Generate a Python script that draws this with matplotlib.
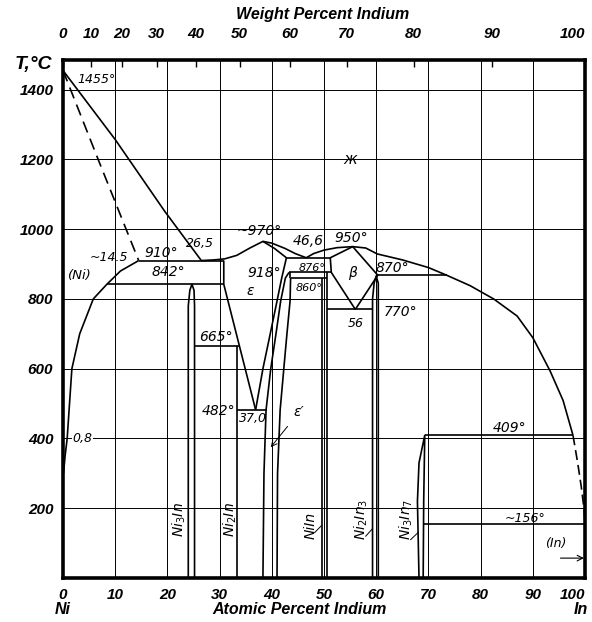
import numpy as np
import matplotlib.pyplot as plt

plt.rcParams['font.family'] = ['DejaVu Sans']

# ---- phase boundaries, at.% In vs T (C) ----
liq_ni_x = [0, 10, 19.5, 26.5]
liq_ni_t = [1455, 1257, 1051, 910]
sol_ni_x = [0, 7, 14.5]
sol_ni_t = [1455, 1190, 910]
solvus_ni_x = [0.1, 0.4, 0.8, 1.7, 3.2, 5.8, 8.4, 11.0, 14.5]
solvus_ni_t = [300, 350, 400, 600, 700, 800, 842, 880, 910]

eps_liq_x = [26.5, 29, 31, 33.3, 35.8, 38.3, 40, 42.5, 44.5, 46.6]
eps_liq_t = [910, 912, 915, 925, 946, 965, 960, 945, 930, 918]
eps_sol_x = [38.3, 40.5, 42.8]
eps_sol_t = [965, 945, 918]

liq_in_x = [46.6, 48, 50, 52.5, 55.5, 58, 60.2, 65, 70, 73.5, 78, 82.5, 87, 90, 93.3, 95.8, 97.7]
liq_in_t = [918, 930, 940, 947, 950, 946, 929, 912, 890, 868, 838, 800, 751, 689, 594, 509, 409]
liq_dash_x = [97.7, 98.6, 99.3, 99.8, 100]
liq_dash_t = [409, 330, 260, 200, 156]

beta_left_x = [55.5, 51.2, 51.4, 56]
beta_left_t = [950, 918, 876, 770]
beta_right_x = [55.5, 60.3, 56]
beta_right_t = [950, 868, 770]

eps_left_x = [30.8, 30.8, 36.9]
eps_left_t = [910, 842, 482]
eps_right_x = [36.9, 38.3, 39.7, 41.0, 41.9, 42.8]
eps_right_t = [482, 600, 700, 794, 860, 918]
epsp_left_x = [38.3, 38.5, 38.9, 39.8, 40.8, 41.7, 42.6, 43.3]
epsp_left_t = [0, 300, 482, 600, 700, 794, 860, 876]
epsp_right_x = [41.0, 41.1, 41.6, 42.3, 42.9, 43.5, 43.6]
epsp_right_t = [0, 300, 482, 600, 700, 794, 860]

ni3in_x = [24.0, 24.0, 24.3, 24.7, 25.1, 25.2, 25.2]
ni3in_t = [0, 780, 825, 842, 825, 780, 0]
ni2in_x = [33.3, 33.3]
ni2in_t = [0, 665]
niin_l_x, niin_l_t = [49.6, 49.6], [0, 860]
niin_r_x, niin_r_t = [50.5, 50.5], [0, 876]
ni2in3_x = [59.3, 59.3, 59.6, 60.0, 60.4, 60.4]
ni2in3_t = [0, 800, 845, 866, 845, 0]
ni3in7_x = [68.2, 67.9, 68.2, 69.3, 69.1, 69.0]
ni3in7_t = [0, 220, 330, 409, 220, 0]
box_x, box_t = [43.5, 43.5], [860, 876]

# isotherms: (T, x from, x to)
iso_t = [910, 842, 665, 482, 918, 876, 860, 870, 770, 409, 156]
iso_x0 = [14.5, 8.4, 25.2, 33.3, 42.8, 43.3, 43.6, 60.3, 50.5, 69.3, 69.2]
iso_x1 = [30.8, 30.8, 33.8, 39.0, 51.2, 51.4, 50.5, 73.5, 59.3, 97.7, 100]

# labels: text, x, T, size
lab_text = ['1455°', '~14.5', '910°', '26,5', '~970°', '(Ni)', '842°', 'ε', '918°',
            '665°', '482°', '37,0', '0,8', '46,6', '950°', '876°', '860°', 'β',
            '870°', '56', '770°', '409°', '~156°', '(In)', 'ж']
lab_x = [6.5, 8.8, 18.8, 26.3, 37.5, 3.3, 20.2, 35.8, 38.5,
         29.3, 29.8, 36.3, 3.7, 47.0, 55.3, 47.8, 47.2, 55.4,
         63.0, 56.0, 64.7, 85.5, 88.5, 94.3, 55.0]
lab_t = [1430, 918, 932, 960, 994, 866, 878, 823, 874,
         690, 480, 457, 400, 966, 974, 889, 831, 874,
         889, 730, 762, 430, 172, 100, 1200]
lab_size = [9, 9, 10, 9, 10, 9.5, 10, 10, 10,
            10, 10, 9, 9, 10, 10, 8, 8, 10,
            10, 9, 10, 10, 9, 9, 11]

cmp_text = ['Ni$_3$In', 'Ni$_2$In', 'NiIn', 'Ni$_2$In$_3$', 'Ni$_3$In$_7$']
cmp_x = [22.2, 32.0, 47.4, 57.2, 65.8]
cmp_t = [167, 167, 150, 167, 167]

M_IN, M_NI = 114.82, 58.69


def at2wt(x):
    x = np.asarray(x, float)
    with np.errstate(divide='ignore', invalid='ignore'):
        return 100 * x * M_IN / (x * M_IN + (100 - x) * M_NI)


def wt2at(w):
    w = np.asarray(w, float)
    with np.errstate(divide='ignore', invalid='ignore'):
        return 100 * (w / M_IN) / (w / M_IN + (100 - w) / M_NI)


fig = plt.figure(figsize=(5.92, 6.22), dpi=100)
ax = fig.add_axes([63 / 592, 44 / 622, 522 / 592, 518 / 622])
ax.set_xlim(0, 100)
ax.set_ylim(0, 1485)

axfont = dict(family='Liberation Sans', weight='bold', style='italic', size=11)
ax.set_xticks(range(0, 101, 10))
ax.set_yticks(range(200, 1401, 200))
xl = ax.set_xticklabels([str(v) for v in range(0, 101, 10)], fontdict=axfont)
xl[-1].set_ha('right')
ax.set_yticklabels([str(v) for v in range(200, 1401, 200)], fontdict=axfont)
ax.tick_params(length=0, pad=7)
ax.grid(True, color='black', lw=0.7)
ax.set_axisbelow(True)
for s in ax.spines.values():
    s.set_linewidth(2.6)

sec = ax.secondary_xaxis('top', functions=(at2wt, wt2at))
sec.set_xticks(range(0, 101, 10))
tl = sec.set_xticklabels([str(v) for v in range(0, 101, 10)], fontdict=axfont)
tl[-1].set_ha('right')
sec.tick_params(direction='in', length=5, width=1, pad=14)
sec.spines['top'].set_visible(False)

lw = 1.2
kw = dict(color='black', lw=lw, solid_capstyle='butt')
ax.plot(liq_ni_x, liq_ni_t, **kw)
ax.plot(sol_ni_x, sol_ni_t, color='black', lw=lw, ls=(0, (7, 4)))
ax.plot(solvus_ni_x, solvus_ni_t, **kw)
ax.plot(eps_liq_x, eps_liq_t, **kw)
ax.plot(eps_sol_x, eps_sol_t, **kw)
ax.plot(liq_in_x, liq_in_t, **kw)
ax.plot(liq_dash_x, liq_dash_t, color='black', lw=lw, ls=(0, (6, 3)))
ax.plot(beta_left_x, beta_left_t, **kw)
ax.plot(beta_right_x, beta_right_t, **kw)
ax.plot(eps_left_x, eps_left_t, **kw)
ax.plot(eps_right_x, eps_right_t, **kw)
ax.plot(epsp_left_x, epsp_left_t, **kw)
ax.plot(epsp_right_x, epsp_right_t, **kw)
for xs, ts in [(ni3in_x, ni3in_t), (ni2in_x, ni2in_t), (niin_l_x, niin_l_t),
               (niin_r_x, niin_r_t), (ni2in3_x, ni2in3_t), (ni3in7_x, ni3in7_t),
               (box_x, box_t)]:
    ax.plot(xs, ts, **kw)
ax.hlines(iso_t, iso_x0, iso_x1, color='black', lw=lw)

for txt, x, t, sz in zip(lab_text, lab_x, lab_t, lab_size):
    bb = dict(facecolor='white', edgecolor='none', pad=0.5) if txt == '0,8' else None
    ax.text(x, t, txt, ha='center', va='center', style='italic', size=sz, bbox=bb)

for txt, x, t in zip(cmp_text, cmp_x, cmp_t):
    ax.text(x, t, txt, ha='center', va='center', style='italic', size=10, rotation=90)

# small leaders from compound labels to their phase lines
ax.plot([48.2, 49.5], [130, 150], color='black', lw=0.7)
ax.plot([58.0, 59.2], [120, 140], color='black', lw=0.7)
ax.plot([66.6, 68.0], [110, 130], color='black', lw=0.7)

ax.annotate('ε′', xy=(39.8, 375), xytext=(45.2, 475), style='italic', size=10,
            ha='center', va='center',
            arrowprops=dict(arrowstyle='->', color='black', lw=0.7, shrinkA=4, shrinkB=0))
ax.annotate('', xy=(99.8, 57), xytext=(95.3, 57),
            arrowprops=dict(arrowstyle='->', color='black', lw=0.8, shrinkA=0, shrinkB=0))

fig.text(323 / 592, 1 - 15 / 622, 'Weight Percent Indium', ha='center', va='center',
         family='Liberation Sans', weight='bold', style='italic', size=11.5)
fig.text(300 / 592, 1 - 610 / 622, 'Atomic Percent Indium', ha='center', va='center',
         family='Liberation Sans', weight='bold', style='italic', size=11.5)
fig.text(63 / 592, 1 - 610 / 622, 'Ni', ha='center', va='center',
         family='Liberation Sans', weight='bold', style='italic', size=11.5)
fig.text(581 / 592, 1 - 610 / 622, 'In', ha='center', va='center',
         family='Liberation Sans', weight='bold', style='italic', size=11.5)
fig.text(33 / 592, 1 - 64 / 622, 'T,°C', ha='center', va='center',
         family='Liberation Sans', weight='bold', style='italic', size=14)

fig.savefig('out.png', dpi=100)
